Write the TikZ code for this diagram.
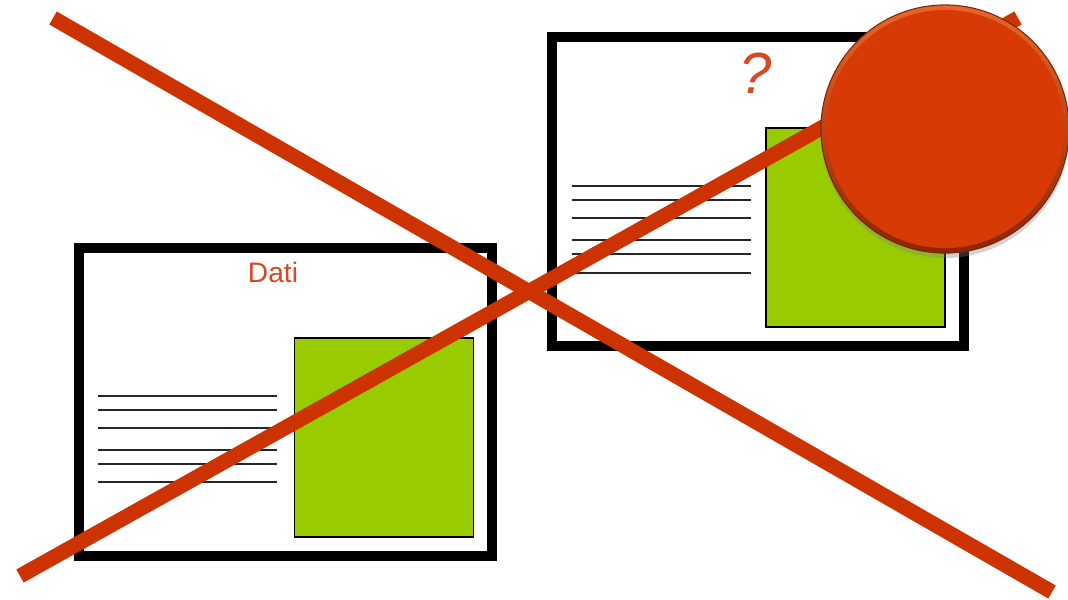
\documentclass[tikz,border=0pt]{standalone}
\usepackage{fontspec}
\setsansfont{Liberation Sans}
\usetikzlibrary{shadows}

\definecolor{crossred}{RGB}{204,51,0}
\definecolor{labelred}{RGB}{214,72,36}
\definecolor{photogreen}{RGB}{153,204,0}
\definecolor{stopred}{RGB}{216,58,6}

\begin{document}
\begin{tikzpicture}[
  x=0.01cm, y=-0.01cm,
  every node/.style={font=\sffamily},
  card/.style={rectangle, draw=black, fill=white, line width=0.1cm,
               inner sep=0pt, minimum width=4.12cm, minimum height=3.08cm},
  photo/.style={rectangle, draw=black, fill=photogreen, line width=0.45pt,
                inner sep=0pt, minimum width=1.79cm, minimum height=1.99cm},
  textline/.style={draw=black!85, line width=0.45pt},
  label/.style={text=labelred, inner sep=0pt, anchor=base},
  cross/.style={draw=crossred, line width=0.15cm},
  stopsign/.style={circle, top color=stopred!75!orange!85!white,
                   bottom color=stopred!65!black, draw=stopred!60!black,
                   line width=0.3pt, inner sep=0pt, minimum size=2.48cm,
                   drop shadow={shadow xshift=0pt, shadow yshift=-1.4pt, opacity=0.35}},
  stopface/.style={circle, fill=stopred, inner sep=0pt, minimum size=2.38cm},
]
\useasboundingbox (0,0) rectangle (1068,599);

% ------------------------------------------------------------ left card --
\node[card]  (lcard)  at (285.5,402) {};
\node[photo] (lphoto) at (384,437.5) {};
\node[label, font=\sffamily\fontsize{8}{10}\selectfont] (ltitle) at (273,282) {Dati};
\draw[textline] (98,396) -- (277,396);
\draw[textline] (98,410) -- (277,410);
\draw[textline] (98,428) -- (277,428);
\draw[textline] (98,450) -- (277,450);
\draw[textline] (98,464) -- (277,464);
\draw[textline] (98,482) -- (277,482);

% ----------------------------------------------------------- right card --
\node[card]  (rcard)  at (758,191.5) {};
\node[photo] (rphoto) at (855.5,227.5) {};
\node[label, font=\sffamily\itshape\fontsize{16.5}{20}\selectfont] (rtitle) at (756,93) {?};
\draw[textline] (572,186) -- (751,186);
\draw[textline] (572,200) -- (751,200);
\draw[textline] (572,218) -- (751,218);
\draw[textline] (572,240) -- (751,240);
\draw[textline] (572,254) -- (751,254);
\draw[textline] (572,273) -- (751,273);

% ---------------------------------------------------------------- cross --
\coordinate (ca) at (53,18);
\coordinate (cb) at (1052,592);
\coordinate (cc) at (20,576);
\coordinate (cd) at (1018,18);
\draw[cross] (ca) -- (cb);
\draw[cross] (cc) -- (cd);

% ------------------------------------------------------------ stop disc --
\node[stopsign] (stop) at (945,129) {};
\node[stopface] (stopin) at (stop.center) {};

\end{tikzpicture}
\end{document}
